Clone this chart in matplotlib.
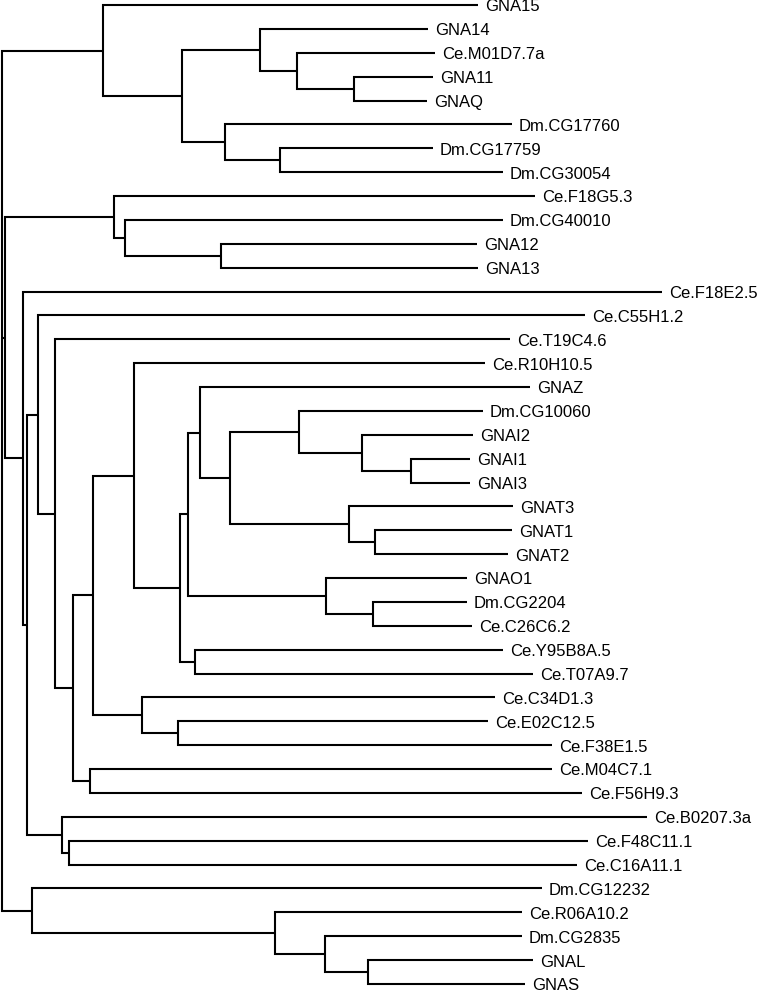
import matplotlib
matplotlib.use('Agg')
import matplotlib.pyplot as plt

# leaves, top to bottom, and the depth of each tip
leaves = ["GNA15", "GNA14", "Ce.M01D7.7a", "GNA11", "GNAQ", "Dm.CG17760",
          "Dm.CG17759", "Dm.CG30054", "Ce.F18G5.3", "Dm.CG40010", "GNA12",
          "GNA13", "Ce.F18E2.5", "Ce.C55H1.2", "Ce.T19C4.6", "Ce.R10H10.5",
          "GNAZ", "Dm.CG10060", "GNAI2", "GNAI1", "GNAI3", "GNAT3", "GNAT1",
          "GNAT2", "GNAO1", "Dm.CG2204", "Ce.C26C6.2", "Ce.Y95B8A.5",
          "Ce.T07A9.7", "Ce.C34D1.3", "Ce.E02C12.5", "Ce.F38E1.5",
          "Ce.M04C7.1", "Ce.F56H9.3", "Ce.B0207.3a", "Ce.F48C11.1",
          "Ce.C16A11.1", "Dm.CG12232", "Ce.R06A10.2", "Dm.CG2835", "GNAL",
          "GNAS"]
tip_depth = [478, 428, 435, 433, 427, 512, 433, 503, 535, 503, 477, 478,
             662, 585, 510, 485, 530, 483, 473, 470, 470, 513, 512, 508,
             467, 467, 472, 503, 533, 495, 488, 552, 552, 582, 647, 588,
             577, 542, 522, 522, 533, 525]

# internal nodes: name, children, depth
node_names = ["q1", "q2", "q3", "d1", "d2", "q4", "q5",
              "t1", "t2", "t3",
              "i1", "i2", "i3", "tr1", "tr2", "i4", "i5", "o1", "o2", "i6",
              "y1", "i7", "i8", "c1", "c2", "i9", "m1", "i10", "i11", "i12",
              "b1", "b2", "i13", "i14", "i15",
              "s1", "s2", "s3", "s4", "root"]
node_children = [("GNA11", "GNAQ"), ("Ce.M01D7.7a", "q1"), ("GNA14", "q2"),
                 ("Dm.CG17759", "Dm.CG30054"), ("Dm.CG17760", "d1"),
                 ("q3", "d2"), ("GNA15", "q4"),
                 ("GNA12", "GNA13"), ("Dm.CG40010", "t1"), ("Ce.F18G5.3", "t2"),
                 ("GNAI1", "GNAI3"), ("GNAI2", "i1"), ("Dm.CG10060", "i2"),
                 ("GNAT1", "GNAT2"), ("GNAT3", "tr1"), ("i3", "tr2"),
                 ("GNAZ", "i4"), ("Dm.CG2204", "Ce.C26C6.2"), ("GNAO1", "o1"),
                 ("i5", "o2"), ("Ce.Y95B8A.5", "Ce.T07A9.7"), ("i6", "y1"),
                 ("Ce.R10H10.5", "i7"), ("Ce.E02C12.5", "Ce.F38E1.5"),
                 ("Ce.C34D1.3", "c1"), ("i8", "c2"),
                 ("Ce.M04C7.1", "Ce.F56H9.3"), ("i9", "m1"),
                 ("Ce.T19C4.6", "i10"), ("Ce.C55H1.2", "i11"),
                 ("Ce.F48C11.1", "Ce.C16A11.1"), ("Ce.B0207.3a", "b1"),
                 ("i12", "b2"), ("Ce.F18E2.5", "i13"), ("t3", "i14"),
                 ("GNAL", "GNAS"), ("Dm.CG2835", "s1"), ("Ce.R06A10.2", "s2"),
                 ("Dm.CG12232", "s3"), ("q5", "i15", "s4")]
node_depth = [354, 297, 260, 280, 225, 182, 103,
              221, 125, 114,
              411, 362, 299, 375, 349, 230, 200, 373, 326, 188,
              195, 180, 134, 178, 142, 93, 90, 73, 55, 38,
              69, 62, 27, 23, 5,
              368, 325, 275, 32, 1.5]

fig = plt.figure(figsize=(7.59, 9.92), dpi=100)
ax = fig.add_axes([0, 0, 1, 1])

x = dict(zip(leaves, tip_depth))
y = {name: i for i, name in enumerate(leaves)}
for name, kids, d in zip(node_names, node_children, node_depth):
    x[name] = d
    y[name] = (y[kids[0]] + y[kids[-1]]) / 2

lw = 1.5
for name, kids in zip(node_names, node_children):
    a, b = kids[0], kids[-1]
    ax.plot([x[a], x[name], x[name], x[b]], [y[a], y[a], y[b], y[b]],
            color='black', lw=lw, solid_joinstyle='miter', solid_capstyle='butt')
    for k in kids[1:-1]:
        ax.plot([x[name], x[k]], [y[k], y[k]], color='black', lw=lw,
                solid_capstyle='butt')

# labels sit with their baseline a little below the branch
for name in leaves:
    ax.annotate(name, (x[name], y[name]), xytext=(4.8, -4.6),
                textcoords='offset points', va='baseline', ha='left',
                fontsize=12.0, family='Liberation Sans')

ax.set_xlim(0, 759)
ax.set_ylim(41.335, -0.209)
ax.axis('off')

fig.savefig('out.png', dpi=100)
